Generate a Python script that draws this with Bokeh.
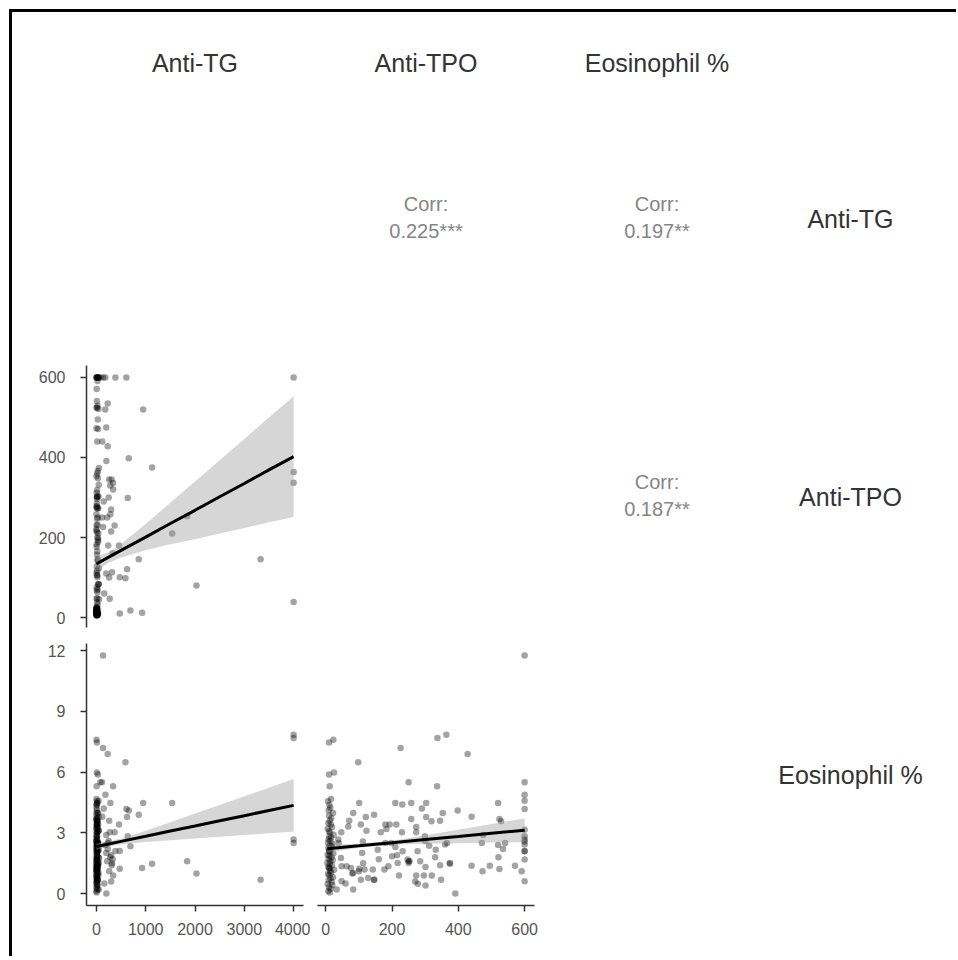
from bokeh.plotting import figure
from bokeh.layouts import row, column
from bokeh.models import Range1d, FixedTicker, LinearAxis, BasicTickFormatter
from bokeh.embed import file_html
from bokeh.resources import INLINE
from bokeh.core.properties import value

# ---------------- data ----------------
var_labels = ["Anti-TG", "Anti-TPO", "Eosinophil %"]
corr_labels = ["0.225***", "0.197**", "0.187**"]   # (TG,TPO), (TG,Eos), (TPO,Eos)

# observations with larger Anti-TG
tg_h = [4000, 4000, 4000, 4000, 3330, 2030, 1840, 1537, 1130, 948, 927, 860, 657, 636, 609, 590,
        690, 623, 474, 474, 460, 386, 370, 340, 339, 318, 285, 271, 230, 203, 183, 135, 135, 115, 81,
        230, 280, 250, 300, 200, 260, 310, 150, 240, 330, 200, 160, 260, 120, 180, 300, 220]
tpo_h = [600, 364, 337, 39, 146, 80, 253, 210, 375, 520, 12, 146, 398, 299, 600, 98,
         18, 121, 101, 10, 180, 600, 230, 320, 336, 113, 258, 47, 428, 391, 600, 600, 226, 250, 600,
         535, 330, 300, 215, 475, 345, 345, 290, 180, 160, 110, 60, 100, 440, 520, 270, 250]
eos_h = [2.67, 7.85, 7.69, 2.50, 0.69, 0.99, 1.60, 4.48, 1.48, 4.48, 1.27, 3.90, 4.10, 2.83, 4.18, 6.49,
         2.34, 3.79, 1.23, 2.10, 3.41, 2.10, 3.03, 0.90, 5.30, 1.50, 4.48, 3.03, 6.90, 0.00, 4.89, 11.77, 7.19, 5.50, 5.50,
         2.20, 1.80, 2.60, 1.90, 2.90, 3.60, 1.40, 4.20, 2.50, 1.70, 2.00, 0.50, 1.10, 3.80, 2.40, 0.60, 1.60]

# observations with low Anti-TG, spread Anti-TPO
tg_l = [12, 3, 30, 8, 45, 20, 5, 15, 38, 2, 25, 10, 50, 18, 6, 33, 14, 1, 27, 9,
        42, 16, 4, 22, 35, 11, 7, 48, 19, 28, 3, 13, 40, 24, 8, 55, 17, 2, 31, 10,
        21, 6, 44, 15, 26, 5, 36, 12, 9, 52, 18, 3, 29, 14, 7, 41, 23, 11, 34, 4,
        16, 47, 20, 8, 27, 2, 39, 13, 6, 24, 32, 10, 1, 19, 43, 15, 5, 26, 37, 9]
tpo_l = [10, 23, 10, 25, 600, 101, 231, 303, 83, 353, 71, 106, 123, 166, 183, 193, 213, 258, 273, 273,
         303, 319, 524, 529, 471, 541, 312, 332, 360, 366, 112, 157, 210, 232, 277, 46, 200, 217, 250, 285,
         63, 76, 83, 117, 142, 177, 189, 247, 301, 374, 440, 473, 495, 524, 571, 521, 591, 600, 600, 600,
         48, 83, 106, 128, 146, 221, 273, 296, 278, 301, 348, 600, 600, 600, 600, 38, 48, 33, 198, 68]
eos_l = [7.47, 7.60, 5.88, 5.99, 4.59, 4.48, 4.40, 4.48, 3.98, 3.98, 3.60, 3.41, 3.11, 3.03, 3.19, 3.41, 3.41, 3.69, 3.29, 3.03,
         3.79, 3.57, 3.69, 3.57, 2.50, 2.50, 2.37, 2.17, 2.42, 2.50, 2.58, 2.17, 2.30, 2.09, 2.09, 1.76, 1.84, 1.51, 1.51, 1.60,
         1.35, 1.27, 1.02, 1.19, 1.19, 1.19, 1.35, 1.68, 1.32, 1.51, 1.38, 1.10, 1.38, 1.22, 1.38, 1.79, 1.10, 1.68, 2.09, 0.61,
         0.61, 0.20, 0.69, 0.77, 0.69, 0.89, 0.89, 0.89, 0.49, 0.40, 0.69, 2.83, 2.58, 2.42, 3.16, 2.67, 1.35, 0.20, 2.50, 3.32]

# observations with low Anti-TG and low Anti-TPO
tg_k = [5, 0, 12, 3, 8, 20, 1, 15, 6, 10, 2, 25, 4, 9, 0, 14, 7, 18, 3, 11,
        30, 5, 1, 8, 16, 2, 12, 6, 22, 0, 9, 4, 13, 7, 28, 3, 10, 1, 17, 5,
        8, 35, 2, 11, 6, 19, 0, 14, 4, 24, 9, 3, 7, 13, 1, 6]
tpo_k = [12, 8, 15, 10, 20, 6, 18, 9, 14, 22, 11, 7, 16, 13, 25, 10, 8, 19, 12, 5,
         14, 21, 9, 17, 11, 6, 23, 13, 10, 15, 8, 18, 12, 20, 7, 14, 9, 16, 11, 24,
         13, 10, 6, 19, 15, 8, 12, 17, 10, 22, 9, 14, 11, 7, 16, 12]
eos_k = [0.05, 0.13, 0.24, 0.31, 0.42, 0.48, 0.57, 0.66, 0.76, 0.81, 0.92, 0.97, 1.04, 1.12, 1.18, 1.26, 1.31, 1.39, 1.46, 1.52,
         1.58, 1.66, 1.72, 1.79, 1.86, 1.91, 1.98, 2.06, 2.12, 2.19, 2.26, 2.31, 2.38, 2.46, 2.52, 2.61, 2.68, 2.77, 2.82, 2.91,
         3.02, 3.08, 3.21, 3.29, 3.42, 3.48, 3.61, 3.72, 3.86, 3.98, 4.12, 4.24, 4.38, 4.56, 4.68, 5.30]

anti_tg = tg_h + tg_l + tg_k
anti_tpo = tpo_h + tpo_l + tpo_k
eos_pct = eos_h + eos_l + eos_k

# fitted lines and confidence bands
fitA_x = [0, 250, 500, 1000, 1500, 2000, 2500, 3000, 3500, 4000]          # TPO ~ TG
fitA_y = [134, 151, 168, 201, 235, 268, 302, 335, 369, 402]
fitA_lo = [117, 137, 150, 168, 183, 196, 210, 224, 238, 251]
fitA_hi = [151, 164, 184, 234, 287, 340, 393, 446, 500, 553]

fitB_x = [0, 250, 500, 1000, 1500, 2000, 2500, 3000, 3500, 4000]          # Eos ~ TG
fitB_y = [2.32, 2.45, 2.58, 2.83, 3.09, 3.34, 3.60, 3.85, 4.11, 4.36]
fitB_lo = [2.17, 2.33, 2.43, 2.55, 2.64, 2.72, 2.81, 2.89, 2.98, 3.06]
fitB_hi = [2.47, 2.57, 2.72, 3.11, 3.53, 3.96, 4.38, 4.81, 5.23, 5.66]

fitC_x = [5, 100, 200, 300, 400, 500, 600]                                 # Eos ~ TPO
fitC_y = [2.22, 2.36, 2.51, 2.67, 2.82, 2.98, 3.13]
fitC_lo = [2.02, 2.26, 2.41, 2.46, 2.49, 2.52, 2.54]
fitC_hi = [2.42, 2.46, 2.61, 2.88, 3.15, 3.44, 3.72]

tg_ticks = [0, 1000, 2000, 3000, 4000]
tpo_ticks = [0, 200, 400, 600]
eos_ticks = [0, 3, 6, 9, 12]

# ---------------- styling ----------------
FONT = "Liberation Sans"
STRIP_COLOR = "#333333"
CORR_COLOR = "#858585"
AXIS_COLOR = "#333333"
TICK_LABEL_COLOR = "#555555"

COL_W = [298, 231, 231, 184]
COL_L = [74, 7, 7, 0]
COL_R = [7, 7, 7, 28]
ROW_H = [67, 278, 278, 321]
ROW_T = [0, 8, 8, 8]
ROW_B = [0, 8, 8, 51]


def rng(vals):
    lo, hi = min(vals), max(vals)
    pad = 0.05 * (hi - lo)
    return Range1d(lo - pad, hi + pad)


def cell(ci, ri, xr=None, yr=None):
    p = figure(width=COL_W[ci], height=ROW_H[ri],
               x_range=xr if xr is not None else Range1d(0, 1),
               y_range=yr if yr is not None else Range1d(0, 1),
               output_backend="svg", toolbar_location=None,
               x_axis_location=None, y_axis_location=None,
               min_border_left=COL_L[ci], min_border_right=COL_R[ci],
               min_border_top=ROW_T[ri], min_border_bottom=ROW_B[ri])
    p.outline_line_color = None
    p.grid.visible = False
    p.background_fill_color = "white"
    p.border_fill_color = "white"
    return p


def add_axis(p, side, ticks):
    ax = LinearAxis(ticker=FixedTicker(ticks=ticks),
                    formatter=BasicTickFormatter(use_scientific=False))
    ax.axis_line_color = AXIS_COLOR
    ax.axis_line_width = 1.5
    ax.major_tick_line_color = AXIS_COLOR
    ax.major_tick_line_width = 1.5
    ax.major_tick_out = 6
    ax.major_tick_in = 0
    ax.minor_tick_line_color = None
    ax.major_label_text_font = FONT
    ax.major_label_text_font_size = "16px"
    ax.major_label_text_color = TICK_LABEL_COLOR
    ax.major_label_standoff = 15 if side == "left" else 11
    p.add_layout(ax, side)


def label(p, txt, x, y, size, color):
    p.text(x=[x], y=[y], text=[txt], text_align="center", text_baseline="middle",
           text_font=value(FONT), text_font_size=size, text_color=color)


def scatter_panel(p, xs, ys, fx, fy, flo, fhi):
    p.scatter(xs, ys, size=6.5, fill_color="black", fill_alpha=0.36, line_color=None)
    p.varea(x=fx, y1=flo, y2=fhi, fill_color="#999999", fill_alpha=0.4)
    p.line(fx, fy, line_color="black", line_width=3)


def corr_panel(p, txt):
    label(p, "Corr:", 0.5, 0.557, "20px", CORR_COLOR)
    label(p, txt, 0.5, 0.452, "20px", CORR_COLOR)


rows = []

# header strips
hdr = []
for ci in range(3):
    p = cell(ci, 0)
    label(p, var_labels[ci], 0.5, 0.24, "25px", STRIP_COLOR)
    hdr.append(p)
hdr.append(cell(3, 0))
rows.append(row(*hdr))

# row 1: Anti-TG
r1 = [cell(0, 1)]
p = cell(1, 1); corr_panel(p, corr_labels[0]); r1.append(p)
p = cell(2, 1); corr_panel(p, corr_labels[1]); r1.append(p)
p = cell(3, 1); label(p, var_labels[0], 0.5, 0.5, "25px", STRIP_COLOR); r1.append(p)
rows.append(row(*r1))

# row 2: Anti-TPO
pA = cell(0, 2, xr=rng(anti_tg), yr=rng(anti_tpo))
scatter_panel(pA, anti_tg, anti_tpo, fitA_x, fitA_y, fitA_lo, fitA_hi)
add_axis(pA, "left", tpo_ticks)
r2 = [pA, cell(1, 2)]
p = cell(2, 2); corr_panel(p, corr_labels[2]); r2.append(p)
p = cell(3, 2); label(p, var_labels[1], 0.5, 0.5, "25px", STRIP_COLOR); r2.append(p)
rows.append(row(*r2))

# row 3: Eosinophil %
pB = cell(0, 3, xr=rng(anti_tg), yr=rng(eos_pct))
scatter_panel(pB, anti_tg, eos_pct, fitB_x, fitB_y, fitB_lo, fitB_hi)
add_axis(pB, "left", eos_ticks)
add_axis(pB, "below", tg_ticks)
pC = cell(1, 3, xr=rng(anti_tpo), yr=rng(eos_pct))
scatter_panel(pC, anti_tpo, eos_pct, fitC_x, fitC_y, fitC_lo, fitC_hi)
add_axis(pC, "below", tpo_ticks)
r3 = [pB, pC, cell(2, 3)]
p = cell(3, 3); label(p, var_labels[2], 0.5, 0.5, "25px", STRIP_COLOR); r3.append(p)
rows.append(row(*r3))

layout = column(*rows, styles={"margin-left": "9px", "margin-top": "9px",
                               "border-top": "3px solid black", "border-left": "3px solid black"})

open("out.html", "w").write(file_html(layout, INLINE))
